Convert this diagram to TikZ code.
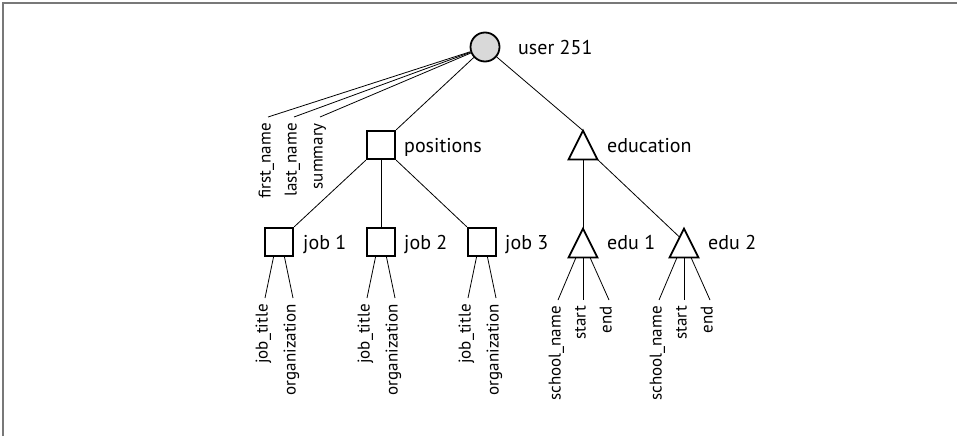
\documentclass[tikz,border=0pt]{standalone}
\usepackage{fontspec}
\setmainfont{PT Sans}
\usetikzlibrary{calc}
\definecolor{usergray}{RGB}{217,217,217}
\definecolor{framegray}{RGB}{120,120,120}
\begin{document}
\begin{tikzpicture}[x=1pt,y=-1pt,
  shapeline/.style={line width=1.8pt},
  conn/.style={line width=0.8pt},
  sq/.style={draw, shapeline, rectangle, minimum size=28.5pt, inner sep=0pt, fill=white},
  trinode/.style={rectangle, minimum size=28.5pt, inner sep=0pt},
  tri/.style={draw, shapeline, fill=white, line join=miter},
  bigtxt/.style={font=\fontsize{20}{24}\selectfont, inner sep=0pt, anchor=base west},
  leaf/.style={font=\fontsize{17}{20}\selectfont, rotate=90, anchor=mid east, inner xsep=6pt, inner ysep=0pt},
  ]
\useasboundingbox (0,0) rectangle (957,436);
\draw[framegray, line width=1.5pt] (3,436) -- (3,3) -- (957,3);

% top node
\node[draw, shapeline, circle, fill=usergray, minimum size=29pt, inner sep=0pt] (user) at (485,47) {};
\node[bigtxt] (userl) at (518,54) {user 251};

% second level
\node[sq] (pos) at (381,145) {};
\node[bigtxt] (posl) at (404,152) {positions};
\node[trinode] (edu) at (583,145) {};
\node[bigtxt] (edul) at (607,152) {education};

% third level
\node[sq] (j1) at (279,242) {};
\node[bigtxt] (j1l) at (303,249) {job 1};
\node[sq] (j2) at (381,242) {};
\node[bigtxt] (j2l) at (404,249) {job 2};
\node[sq] (j3) at (482,242) {};
\node[bigtxt] (j3l) at (505,249) {job 3};
\node[trinode] (e1) at (583,243) {};
\node[bigtxt] (e1l) at (607,249) {edu 1};
\node[trinode] (e2) at (684,243) {};
\node[bigtxt] (e2l) at (708,249) {edu 2};

% connectors between structural nodes
\draw[conn] (user) -- (pos.north east);
\draw[conn] (user) -- (edu.north);
\draw[conn] (pos.south west) -- (j1.north east);
\draw[conn] (pos.south) -- (j2.north);
\draw[conn] (pos.south east) -- (j3.north west);
\draw[conn] (edu.south) -- (e1.north);
\draw[conn] (edu.south east) -- ($(e2.north)!0.3!(e2.south west)$);

% triangles
\foreach \t in {edu,e1,e2}
  \draw[tri] (\t.north) -- (\t.south east) -- (\t.south west) -- cycle;

% user leaves
\node[leaf] (fn) at (268,117) {first\_name};
\node[leaf] (ln) at (294,117) {last\_name};
\node[leaf] (sm) at (320,117) {summary};
\foreach \n in {fn,ln,sm} \draw[conn] (\n.mid east) -- (user);

% job leaves
\foreach \j/\x in {j1/279,j2/381,j3/482}{
  \node[leaf] (\j a) at (\x-14,298) {job\_title};
  \node[leaf] (\j b) at (\x+14,298) {organization};
  \draw[conn] ([xshift=-5.5pt]\j.south) -- (\j a.mid east);
  \draw[conn] ([xshift=5.5pt]\j.south) -- (\j b.mid east);
}

% education leaves
\foreach \e/\x in {e1/583,e2/684}{
  \node[leaf] (\e a) at (\x-25,300) {school\_name};
  \node[leaf] (\e b) at (\x,300) {start};
  \node[leaf] (\e c) at (\x+26,300) {end};
  \draw[conn] ([xshift=-7pt]\e.south) -- (\e a.mid east);
  \draw[conn] (\e.south) -- (\e b.mid east);
  \draw[conn] ([xshift=7pt]\e.south) -- (\e c.mid east);
}
\end{tikzpicture}
\end{document}
